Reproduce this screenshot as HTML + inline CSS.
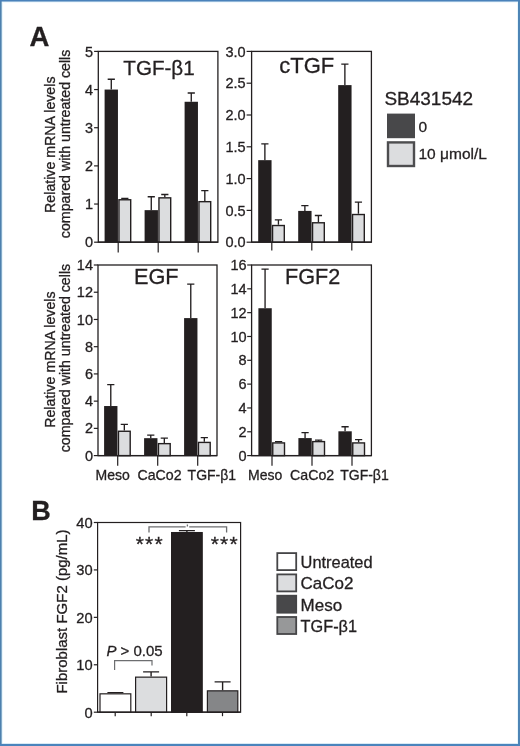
<!DOCTYPE html>
<html lang="en">
<head>
<meta charset="utf-8">
<title>Figure</title>
<style>
html,body{margin:0;padding:0;background:#fff;}
body{width:520px;height:746px;overflow:hidden;}
svg{position:absolute;left:0;top:0;}
svg text{font-family:"Liberation Sans",sans-serif;fill:#231f20;stroke:#231f20;stroke-width:0.3px;}
</style>
</head>
<body>
<svg width="520" height="746" viewBox="0 0 520 746">
<rect x="0" y="0" width="520" height="746" fill="#fff"/>
<rect x="0" y="0" width="3" height="746" fill="#e9f6fc"/>
<rect x="0" y="0" width="520" height="2.6" fill="#e9f6fc"/>
<rect x="517" y="0" width="3" height="746" fill="#e9f6fc"/>
<rect x="0" y="743" width="520" height="3" fill="#e9f6fc"/>
<rect x="0" y="0" width="1.65" height="746" fill="#4d81ae"/>
<rect x="518" y="0" width="2" height="746" fill="#4d85b6"/>
<rect x="0" y="0" width="520" height="1.55" fill="#4a82ba"/>
<rect x="0" y="743.9" width="520" height="2.1" fill="#4a84bc"/>
<text x="29.6" y="46.4" font-size="27.5" font-weight="bold">A</text>
<text x="31.2" y="520.4" font-size="27" font-weight="bold">B</text>
<text transform="translate(55 144.7) rotate(-90)" font-size="14.2" text-anchor="middle">Relative mRNA levels</text>
<text transform="translate(70.0 143.9) rotate(-90)" font-size="14.2" text-anchor="middle">compared with untreated cells</text>
<text transform="translate(55 359.6) rotate(-90)" font-size="14.2" text-anchor="middle">Relative mRNA levels</text>
<text transform="translate(70.0 358.1) rotate(-90)" font-size="14.2" text-anchor="middle">compared with untreated cells</text>
<rect x="98.3" y="51.4" width="119.60000000000001" height="190.79999999999998" fill="#fff" stroke="#231f20" stroke-width="1.3"/>
<path d="M94.1 242.20H98.3" stroke="#231f20" stroke-width="1.2"/>
<text x="93.1" y="247.30" font-size="14.5" text-anchor="end">0</text>
<path d="M94.1 204.04H98.3" stroke="#231f20" stroke-width="1.2"/>
<text x="93.1" y="209.14" font-size="14.5" text-anchor="end">1</text>
<path d="M94.1 165.88H98.3" stroke="#231f20" stroke-width="1.2"/>
<text x="93.1" y="170.98" font-size="14.5" text-anchor="end">2</text>
<path d="M94.1 127.72H98.3" stroke="#231f20" stroke-width="1.2"/>
<text x="93.1" y="132.82" font-size="14.5" text-anchor="end">3</text>
<path d="M94.1 89.56H98.3" stroke="#231f20" stroke-width="1.2"/>
<text x="93.1" y="94.66" font-size="14.5" text-anchor="end">4</text>
<path d="M94.1 51.40H98.3" stroke="#231f20" stroke-width="1.2"/>
<text x="93.1" y="56.50" font-size="14.5" text-anchor="end">5</text>
<text x="123.3" y="75.2" font-size="20.6">TGF-&#946;1</text>
<path d="M118.2 242.2V252.39999999999998" stroke="#231f20" stroke-width="1.2"/>
<path d="M111.28 89.56V79.26M107.68 79.26H114.88" fill="none" stroke="#231f20" stroke-width="1.35"/>
<rect x="104.60" y="89.56" width="13.35" height="152.64" fill="#231f20"/>
<path d="M124.83 199.06V198.32M121.23 198.32H128.43" fill="none" stroke="#231f20" stroke-width="1.35"/>
<rect x="118.95" y="199.76" width="11.75" height="42.44" fill="#dcdddf" stroke="#231f20" stroke-width="1.4"/>
<path d="M158.2 242.2V252.39999999999998" stroke="#231f20" stroke-width="1.2"/>
<path d="M151.27 210.15V196.79M147.67 196.79H154.87" fill="none" stroke="#231f20" stroke-width="1.35"/>
<rect x="144.60" y="210.15" width="13.35" height="32.05" fill="#231f20"/>
<path d="M164.82 197.15V194.50M161.22 194.50H168.42" fill="none" stroke="#231f20" stroke-width="1.35"/>
<rect x="158.95" y="197.85" width="11.75" height="44.35" fill="#dcdddf" stroke="#231f20" stroke-width="1.4"/>
<path d="M198.2 242.2V252.39999999999998" stroke="#231f20" stroke-width="1.2"/>
<path d="M191.27 101.77V92.99M187.67 92.99H194.87" fill="none" stroke="#231f20" stroke-width="1.35"/>
<rect x="184.60" y="101.77" width="13.35" height="140.43" fill="#231f20"/>
<path d="M204.82 200.97V190.68M201.22 190.68H208.42" fill="none" stroke="#231f20" stroke-width="1.35"/>
<rect x="198.95" y="201.67" width="11.75" height="40.53" fill="#dcdddf" stroke="#231f20" stroke-width="1.4"/>
<path d="M98.3 242.2H217.9" stroke="#231f20" stroke-width="1.2"/>
<rect x="251.6" y="51.4" width="119.79999999999998" height="190.79999999999998" fill="#fff" stroke="#231f20" stroke-width="1.3"/>
<path d="M246.6 242.20H251.6" stroke="#231f20" stroke-width="1.2"/>
<text x="245.7" y="247.30" font-size="14.5" text-anchor="end">0.0</text>
<path d="M246.6 210.40H251.6" stroke="#231f20" stroke-width="1.2"/>
<text x="245.7" y="215.50" font-size="14.5" text-anchor="end">0.5</text>
<path d="M246.6 178.60H251.6" stroke="#231f20" stroke-width="1.2"/>
<text x="245.7" y="183.70" font-size="14.5" text-anchor="end">1.0</text>
<path d="M246.6 146.80H251.6" stroke="#231f20" stroke-width="1.2"/>
<text x="245.7" y="151.90" font-size="14.5" text-anchor="end">1.5</text>
<path d="M246.6 115.00H251.6" stroke="#231f20" stroke-width="1.2"/>
<text x="245.7" y="120.10" font-size="14.5" text-anchor="end">2.0</text>
<path d="M246.6 83.20H251.6" stroke="#231f20" stroke-width="1.2"/>
<text x="245.7" y="88.30" font-size="14.5" text-anchor="end">2.5</text>
<path d="M246.6 51.40H251.6" stroke="#231f20" stroke-width="1.2"/>
<text x="245.7" y="56.50" font-size="14.5" text-anchor="end">3.0</text>
<text x="279.2" y="73.2" font-size="22">cTGF</text>
<path d="M271.8 242.2V250.39999999999998" stroke="#231f20" stroke-width="1.2"/>
<path d="M264.88 160.16V143.94M261.27 143.94H268.48" fill="none" stroke="#231f20" stroke-width="1.35"/>
<rect x="258.20" y="160.16" width="13.35" height="82.04" fill="#231f20"/>
<path d="M278.43 224.82V219.94M274.82 219.94H282.03" fill="none" stroke="#231f20" stroke-width="1.35"/>
<rect x="272.55" y="225.52" width="11.75" height="16.68" fill="#dcdddf" stroke="#231f20" stroke-width="1.4"/>
<path d="M311.8 242.2V250.39999999999998" stroke="#231f20" stroke-width="1.2"/>
<path d="M304.88 210.91V205.63M301.27 205.63H308.48" fill="none" stroke="#231f20" stroke-width="1.35"/>
<rect x="298.20" y="210.91" width="13.35" height="31.29" fill="#231f20"/>
<path d="M318.43 222.08V215.49M314.82 215.49H322.03" fill="none" stroke="#231f20" stroke-width="1.35"/>
<rect x="312.55" y="222.78" width="11.75" height="19.42" fill="#dcdddf" stroke="#231f20" stroke-width="1.4"/>
<path d="M351.8 242.2V250.39999999999998" stroke="#231f20" stroke-width="1.2"/>
<path d="M344.88 85.11V64.12M341.27 64.12H348.48" fill="none" stroke="#231f20" stroke-width="1.35"/>
<rect x="338.20" y="85.11" width="13.35" height="157.09" fill="#231f20"/>
<path d="M358.43 213.82V202.13M354.82 202.13H362.03" fill="none" stroke="#231f20" stroke-width="1.35"/>
<rect x="352.55" y="214.52" width="11.75" height="27.68" fill="#dcdddf" stroke="#231f20" stroke-width="1.4"/>
<path d="M251.6 242.2H371.4" stroke="#231f20" stroke-width="1.2"/>
<rect x="98.0" y="265" width="119.0" height="190.60000000000002" fill="#fff" stroke="#231f20" stroke-width="1.3"/>
<path d="M93.8 455.60H98.0" stroke="#231f20" stroke-width="1.2"/>
<text x="93.0" y="460.70" font-size="14.5" text-anchor="end">0</text>
<path d="M93.8 428.37H98.0" stroke="#231f20" stroke-width="1.2"/>
<text x="93.0" y="433.47" font-size="14.5" text-anchor="end">2</text>
<path d="M93.8 401.14H98.0" stroke="#231f20" stroke-width="1.2"/>
<text x="93.0" y="406.24" font-size="14.5" text-anchor="end">4</text>
<path d="M93.8 373.91H98.0" stroke="#231f20" stroke-width="1.2"/>
<text x="93.0" y="379.01" font-size="14.5" text-anchor="end">6</text>
<path d="M93.8 346.69H98.0" stroke="#231f20" stroke-width="1.2"/>
<text x="93.0" y="351.79" font-size="14.5" text-anchor="end">8</text>
<path d="M93.8 319.46H98.0" stroke="#231f20" stroke-width="1.2"/>
<text x="93.0" y="324.56" font-size="14.5" text-anchor="end">10</text>
<path d="M93.8 292.23H98.0" stroke="#231f20" stroke-width="1.2"/>
<text x="93.0" y="297.33" font-size="14.5" text-anchor="end">12</text>
<path d="M93.8 265.00H98.0" stroke="#231f20" stroke-width="1.2"/>
<text x="93.0" y="270.10" font-size="14.5" text-anchor="end">14</text>
<text x="134.0" y="284.4" font-size="21.7">EGF</text>
<path d="M117.7 455.6V465.8" stroke="#231f20" stroke-width="1.2"/>
<path d="M110.78 406.04V384.67M107.18 384.67H114.38" fill="none" stroke="#231f20" stroke-width="1.35"/>
<rect x="104.10" y="406.04" width="13.35" height="49.56" fill="#231f20"/>
<path d="M124.33 430.56V424.42M120.73 424.42H127.92" fill="none" stroke="#231f20" stroke-width="1.35"/>
<rect x="118.45" y="431.26" width="11.75" height="24.34" fill="#dcdddf" stroke="#231f20" stroke-width="1.4"/>
<path d="M157.7 455.6V465.8" stroke="#231f20" stroke-width="1.2"/>
<path d="M150.77 438.17V435.18M147.17 435.18H154.37" fill="none" stroke="#231f20" stroke-width="1.35"/>
<rect x="144.10" y="438.17" width="13.35" height="17.43" fill="#231f20"/>
<path d="M164.32 442.95V438.17M160.72 438.17H167.92" fill="none" stroke="#231f20" stroke-width="1.35"/>
<rect x="158.45" y="443.65" width="11.75" height="11.95" fill="#dcdddf" stroke="#231f20" stroke-width="1.4"/>
<path d="M197.7 455.6V465.8" stroke="#231f20" stroke-width="1.2"/>
<path d="M190.77 318.10V284.06M187.17 284.06H194.37" fill="none" stroke="#231f20" stroke-width="1.35"/>
<rect x="184.10" y="318.10" width="13.35" height="137.50" fill="#231f20"/>
<path d="M204.32 441.72V437.63M200.72 437.63H207.92" fill="none" stroke="#231f20" stroke-width="1.35"/>
<rect x="198.45" y="442.42" width="11.75" height="13.18" fill="#dcdddf" stroke="#231f20" stroke-width="1.4"/>
<path d="M98.0 455.6H217.0" stroke="#231f20" stroke-width="1.2"/>
<rect x="251.6" y="265" width="119.79999999999998" height="190.60000000000002" fill="#fff" stroke="#231f20" stroke-width="1.3"/>
<path d="M247.2 455.60H251.6" stroke="#231f20" stroke-width="1.2"/>
<text x="246.7" y="460.70" font-size="14.5" text-anchor="end">0</text>
<path d="M247.2 431.78H251.6" stroke="#231f20" stroke-width="1.2"/>
<text x="246.7" y="436.88" font-size="14.5" text-anchor="end">2</text>
<path d="M247.2 407.95H251.6" stroke="#231f20" stroke-width="1.2"/>
<text x="246.7" y="413.05" font-size="14.5" text-anchor="end">4</text>
<path d="M247.2 384.12H251.6" stroke="#231f20" stroke-width="1.2"/>
<text x="246.7" y="389.23" font-size="14.5" text-anchor="end">6</text>
<path d="M247.2 360.30H251.6" stroke="#231f20" stroke-width="1.2"/>
<text x="246.7" y="365.40" font-size="14.5" text-anchor="end">8</text>
<path d="M247.2 336.48H251.6" stroke="#231f20" stroke-width="1.2"/>
<text x="246.7" y="341.58" font-size="14.5" text-anchor="end">10</text>
<path d="M247.2 312.65H251.6" stroke="#231f20" stroke-width="1.2"/>
<text x="246.7" y="317.75" font-size="14.5" text-anchor="end">12</text>
<path d="M247.2 288.82H251.6" stroke="#231f20" stroke-width="1.2"/>
<text x="246.7" y="293.93" font-size="14.5" text-anchor="end">14</text>
<path d="M247.2 265.00H251.6" stroke="#231f20" stroke-width="1.2"/>
<text x="246.7" y="270.10" font-size="14.5" text-anchor="end">16</text>
<text x="285.0" y="284.4" font-size="21.6">FGF2</text>
<path d="M272 455.6V465.8" stroke="#231f20" stroke-width="1.2"/>
<path d="M265.07 308.24V269.17M261.47 269.17H268.68" fill="none" stroke="#231f20" stroke-width="1.35"/>
<rect x="258.40" y="308.24" width="13.35" height="147.36" fill="#231f20"/>
<path d="M278.62 442.22V441.66M275.02 441.66H282.23" fill="none" stroke="#231f20" stroke-width="1.35"/>
<rect x="272.75" y="442.92" width="11.75" height="12.68" fill="#dcdddf" stroke="#231f20" stroke-width="1.4"/>
<path d="M312 455.6V465.8" stroke="#231f20" stroke-width="1.2"/>
<path d="M305.07 438.09V432.61M301.47 432.61H308.68" fill="none" stroke="#231f20" stroke-width="1.35"/>
<rect x="298.40" y="438.09" width="13.35" height="17.51" fill="#231f20"/>
<path d="M318.62 440.91V440.11M315.02 440.11H322.23" fill="none" stroke="#231f20" stroke-width="1.35"/>
<rect x="312.75" y="441.61" width="11.75" height="13.99" fill="#dcdddf" stroke="#231f20" stroke-width="1.4"/>
<path d="M352 455.6V465.8" stroke="#231f20" stroke-width="1.2"/>
<path d="M345.07 431.30V426.77M341.47 426.77H348.68" fill="none" stroke="#231f20" stroke-width="1.35"/>
<rect x="338.40" y="431.30" width="13.35" height="24.30" fill="#231f20"/>
<path d="M358.62 442.22V439.64M355.02 439.64H362.23" fill="none" stroke="#231f20" stroke-width="1.35"/>
<rect x="352.75" y="442.92" width="11.75" height="12.68" fill="#dcdddf" stroke="#231f20" stroke-width="1.4"/>
<path d="M251.6 455.6H371.4" stroke="#231f20" stroke-width="1.2"/>
<text x="95.5" y="480.4" font-size="14">Meso</text>
<text x="137.4" y="480.4" font-size="14.2">CaCo2</text>
<text x="187.6" y="480.4" font-size="14">TGF-&#946;1</text>
<text x="248.1" y="480.4" font-size="14">Meso</text>
<text x="290.0" y="480.4" font-size="14.2">CaCo2</text>
<text x="340.2" y="480.4" font-size="14">TGF-&#946;1</text>
<text x="384.4" y="104.8" font-size="19">SB431542</text>
<rect x="387" y="113.6" width="28" height="24.6" fill="#48484a"/>
<rect x="388" y="142.4" width="26" height="23.6" fill="#dcdddf" stroke="#4d4d4f" stroke-width="2.4"/>
<text x="418.5" y="132.2" font-size="15.5">0</text>
<text x="418.5" y="158.8" font-size="15.5">10 &#956;mol/L</text>
<rect x="97.6" y="522.5" width="143.0" height="189.70000000000005" fill="#fff" stroke="#231f20" stroke-width="1.2"/>
<path d="M93.8 712.20H97.6" stroke="#231f20" stroke-width="1.2"/>
<text x="92.69999999999999" y="717.50" font-size="14.7" text-anchor="end">0</text>
<path d="M93.8 664.78H97.6" stroke="#231f20" stroke-width="1.2"/>
<text x="92.69999999999999" y="670.08" font-size="14.7" text-anchor="end">10</text>
<path d="M93.8 617.35H97.6" stroke="#231f20" stroke-width="1.2"/>
<text x="92.69999999999999" y="622.65" font-size="14.7" text-anchor="end">20</text>
<path d="M93.8 569.92H97.6" stroke="#231f20" stroke-width="1.2"/>
<text x="92.69999999999999" y="575.22" font-size="14.7" text-anchor="end">30</text>
<path d="M93.8 522.50H97.6" stroke="#231f20" stroke-width="1.2"/>
<text x="92.69999999999999" y="527.80" font-size="14.7" text-anchor="end">40</text>
<text transform="translate(67 611.5) rotate(-90)" font-size="15" text-anchor="middle">Fibroblast FGF2 (pg/mL)</text>
<path d="M115.40 693.23V692.66M107.40 692.66H123.40" fill="none" stroke="#231f20" stroke-width="1.4"/>
<rect x="100.00" y="693.83" width="30.80" height="18.37" fill="#fff" stroke="#231f20" stroke-width="1.2"/>
<path d="M115.2 712.2V716.2" stroke="#231f20" stroke-width="1.2"/>
<path d="M151.10 676.54V671.89M143.10 671.89H159.10" fill="none" stroke="#231f20" stroke-width="1.4"/>
<rect x="135.60" y="677.14" width="31.00" height="35.06" fill="#dcdddf" stroke="#231f20" stroke-width="1.2"/>
<path d="M151.2 712.2V716.2" stroke="#231f20" stroke-width="1.2"/>
<path d="M186.90 531.99V530.66M178.90 530.66H194.90" fill="none" stroke="#231f20" stroke-width="1.4"/>
<rect x="171.60" y="532.59" width="30.60" height="179.62" fill="#231f20" stroke="#231f20" stroke-width="1.2"/>
<path d="M186.8 712.2V716.2" stroke="#231f20" stroke-width="1.2"/>
<path d="M222.60 690.24V681.85M214.60 681.85H230.60" fill="none" stroke="#231f20" stroke-width="1.4"/>
<rect x="207.40" y="690.84" width="30.40" height="21.36" fill="#858688" stroke="#231f20" stroke-width="1.2"/>
<path d="M222.5 712.2V716.2" stroke="#231f20" stroke-width="1.2"/>
<path d="M97.6 712.2H240.6" stroke="#231f20" stroke-width="1.2"/>
<path d="M114.6 670V660.6H152V665.6" fill="none" stroke="#6d6e70" stroke-width="1.2"/>
<path d="M149 532.6V526.9H185.6M189.2 526.9H226.6V532.6M187.4 524.6V526.4" fill="none" stroke="#6d6e70" stroke-width="1.3"/>
<text x="106.4" y="655.6" font-size="15"><tspan font-style="italic">P</tspan> &gt; 0.05</text>
<text x="135.8" y="550.6" font-size="21" letter-spacing="1.15" style="stroke-width:0.3px">***</text>
<text x="210.8" y="550.6" font-size="21" letter-spacing="1.15" style="stroke-width:0.3px">***</text>
<rect x="277.3" y="553.10" width="18.9" height="17.0" fill="#fff" stroke="#454547" stroke-width="1.8"/>
<text x="300.6" y="568.10" font-size="16.4">Untreated</text>
<rect x="277.3" y="574.40" width="18.9" height="17.0" fill="#dcdddf" stroke="#454547" stroke-width="1.8"/>
<text x="300.6" y="589.40" font-size="17">CaCo2</text>
<rect x="277.3" y="595.70" width="18.9" height="17.0" fill="#48484a" stroke="#454547" stroke-width="1.8"/>
<text x="300.6" y="610.70" font-size="17">Meso</text>
<rect x="277.3" y="617.00" width="18.9" height="17.0" fill="#979899" stroke="#454547" stroke-width="1.8"/>
<text x="300.6" y="632.00" font-size="16.3">TGF-&#946;1</text>
</svg>
</body>
</html>
